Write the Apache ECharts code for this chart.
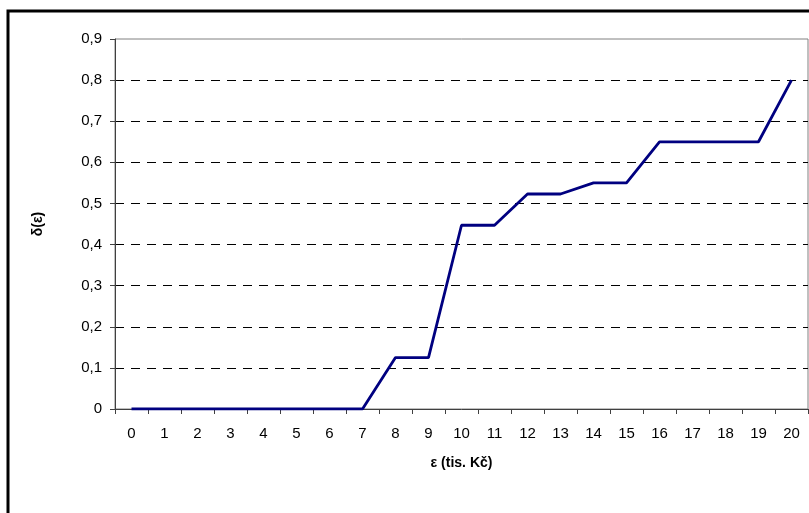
<!DOCTYPE html>
<html>
<head>
<meta charset="utf-8">
<script src="https://cdn.jsdelivr.net/npm/echarts@6/dist/echarts.min.js"></script>
<style>
html,body{margin:0;padding:0;background:#fff;}
#chart{width:809px;height:513px;}
</style>
</head>
<body>
<div id="chart"></div>
<script>
const categories = ['0','1','2','3','4','5','6','7','8','9','10','11','12','13','14','15','16','17','18','19','20'];
const deltaValues = [0,0,0,0,0,0,0,0,0.125,0.125,0.447,0.447,0.523,0.523,0.55,0.55,0.65,0.65,0.65,0.65,0.8];
const xAxisTitle = 'ε (tis. Kč)';
const yAxisTitle = 'δ(ε)';

const chart = echarts.init(document.getElementById('chart'), null, {renderer:'canvas'});
const font = 'Liberation Sans, Arial, sans-serif';
chart.setOption({
  animation:false,
  backgroundColor:'#fff',
  graphic:[{
    type:'rect', z:-1, silent:true,
    shape:{x:8, y:11, width:900, height:600},
    style:{fill:'none', stroke:'#000', lineWidth:3}
  }],
  grid:{left:115, top:39, right:1, bottom:104, show:true, borderColor:'#808080', borderWidth:1, backgroundColor:'transparent'},
  xAxis:{
    type:'category',
    data:categories,
    boundaryGap:true,
    name:xAxisTitle,
    nameLocation:'middle',
    nameGap:47,
    nameTextStyle:{fontFamily:font, fontSize:14, fontWeight:'bold', color:'#000'},
    axisLine:{lineStyle:{color:'#404040', width:1}},
    axisTick:{show:true, length:5, alignWithLabel:false, lineStyle:{color:'#404040'}},
    axisLabel:{fontFamily:font, fontSize:15, color:'#000', margin:17, interval:0},
    splitLine:{show:false}
  },
  yAxis:{
    type:'value',
    min:0, max:0.9, interval:0.1,
    name:yAxisTitle,
    nameLocation:'middle',
    nameGap:70,
    nameRotate:90,
    nameTextStyle:{fontFamily:font, fontSize:14, fontWeight:'bold', color:'#000'},
    axisLine:{show:true, lineStyle:{color:'#404040', width:1}},
    axisTick:{show:true, length:5, lineStyle:{color:'#404040'}},
    axisLabel:{fontFamily:font, fontSize:15, color:'#000', margin:13,
      formatter:function(v){ return (Math.round(v*10)/10).toString().replace('.', ','); }},
    splitLine:{show:true, showMinLine:false, showMaxLine:false, lineStyle:{color:'#000', type:[9,7], width:1}}
  },
  series:[{
    type:'line',
    data:deltaValues,
    symbol:'none',
    smooth:false,
    lineStyle:{color:'#000080', width:2.8},
    itemStyle:{color:'#000080'}
  }]
});
</script>
</body>
</html>
